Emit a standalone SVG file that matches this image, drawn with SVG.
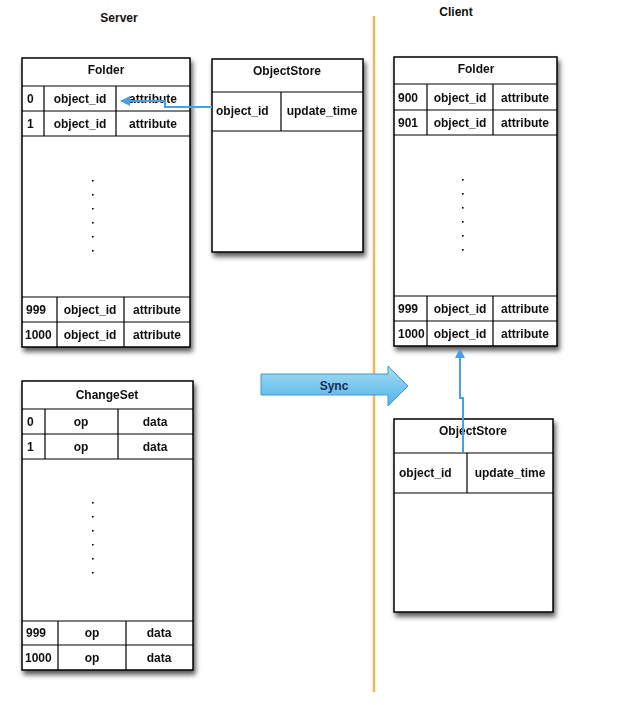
<svg xmlns="http://www.w3.org/2000/svg" width="622" height="705" viewBox="0 0 622 705">
<defs>
<style>
text{font-family:"Liberation Sans",Arial,sans-serif;font-weight:bold;font-size:12px;fill:#111;}
.c{text-anchor:middle;}
.box{fill:#fff;stroke:#000;stroke-width:1.5;}
.ln{stroke:#000;stroke-width:1.2;fill:none;}
.dot{fill:#000;}
.conn{stroke:#4a9fe0;stroke-width:2;fill:none;}
</style>
<filter id="sh" x="-10%" y="-10%" width="130%" height="130%">
<feDropShadow dx="2" dy="4" stdDeviation="2.5" flood-color="#000" flood-opacity="0.65"/>
</filter>
<linearGradient id="sg" x1="0" y1="0" x2="0" y2="1">
<stop offset="0" stop-color="#a6dcf5"/>
<stop offset="1" stop-color="#4fb3e6"/>
</linearGradient>
<marker id="ah" viewBox="0 0 10 10" refX="9" refY="5" markerWidth="5" markerHeight="5" orient="auto">
<path d="M0,0 L10,5 L0,10 z" fill="#4a9fe0"/>
</marker>
</defs>
<rect width="622" height="705" fill="#fff"/>

<text x="119" y="22" class="c">Server</text>
<text x="456" y="16" class="c">Client</text>

<line x1="374" y1="16" x2="374" y2="692" stroke="#efb560" stroke-width="2.5"/>

<g id="server-folder" filter="url(#sh)">
<rect class="box" x="22" y="58" width="168" height="289"/>
<path class="ln" d="M22,86H190 M22,111H190 M22,136H190 M44,86V136 M116,86V136 M22,297H190 M22,322H190 M57,297V347 M124,297V347"/>
<text x="106" y="74" class="c">Folder</text>
<text x="27" y="103">0</text><text x="80" y="103" class="c">object_id</text><text x="153" y="103" class="c">attribute</text>
<text x="27" y="128">1</text><text x="80" y="128" class="c">object_id</text><text x="153" y="128" class="c">attribute</text>
<text x="26" y="314">999</text><text x="90" y="314" class="c">object_id</text><text x="157" y="314" class="c">attribute</text>
<text x="25" y="339">1000</text><text x="90" y="339" class="c">object_id</text><text x="157" y="339" class="c">attribute</text>
<g class="dot"><rect x="92" y="180" width="1.6" height="1.6"/><rect x="92" y="194" width="1.6" height="1.6"/><rect x="92" y="208" width="1.6" height="1.6"/><rect x="92" y="222" width="1.6" height="1.6"/><rect x="92" y="236" width="1.6" height="1.6"/><rect x="92" y="250" width="1.6" height="1.6"/></g>
</g>

<g id="server-objectstore" filter="url(#sh)">
<rect class="box" x="212" y="59" width="151" height="193"/>
<path class="ln" d="M212,92H363 M212,131H363 M281,92V131"/>
<text x="287" y="75" class="c">ObjectStore</text>
<text x="216" y="115">object_id</text><text x="322" y="115" class="c">update_time</text>
</g>

<g id="changeset" filter="url(#sh)">
<rect class="box" x="22" y="381" width="171" height="289"/>
<path class="ln" d="M22,409H193 M22,434H193 M22,459H193 M45,409V459 M118,409V459 M22,621H193 M22,645H193 M58,621V670 M126,621V670"/>
<text x="107" y="399" class="c">ChangeSet</text>
<text x="27" y="426">0</text><text x="81" y="426" class="c">op</text><text x="155" y="426" class="c">data</text>
<text x="27" y="451">1</text><text x="81" y="451" class="c">op</text><text x="155" y="451" class="c">data</text>
<text x="26" y="637">999</text><text x="92" y="637" class="c">op</text><text x="159" y="637" class="c">data</text>
<text x="25" y="662">1000</text><text x="92" y="662" class="c">op</text><text x="159" y="662" class="c">data</text>
<g class="dot"><rect x="92" y="502" width="1.6" height="1.6"/><rect x="92" y="516" width="1.6" height="1.6"/><rect x="92" y="530" width="1.6" height="1.6"/><rect x="92" y="544" width="1.6" height="1.6"/><rect x="92" y="558" width="1.6" height="1.6"/><rect x="92" y="572" width="1.6" height="1.6"/></g>
</g>

<g id="client-folder" filter="url(#sh)">
<rect class="box" x="394" y="57" width="163" height="289"/>
<path class="ln" d="M394,84H557 M394,110H557 M394,135H557 M427,84V135 M493,84V135 M394,296H557 M394,321H557 M427,296V346 M493,296V346"/>
<text x="476" y="73" class="c">Folder</text>
<text x="398" y="102">900</text><text x="460" y="102" class="c">object_id</text><text x="525" y="102" class="c">attribute</text>
<text x="398" y="127">901</text><text x="460" y="127" class="c">object_id</text><text x="525" y="127" class="c">attribute</text>
<text x="398" y="313">999</text><text x="460" y="313" class="c">object_id</text><text x="525" y="313" class="c">attribute</text>
<text x="398" y="338">1000</text><text x="460" y="338" class="c">object_id</text><text x="525" y="338" class="c">attribute</text>
<g class="dot"><rect x="462" y="179" width="1.6" height="1.6"/><rect x="462" y="193" width="1.6" height="1.6"/><rect x="462" y="207" width="1.6" height="1.6"/><rect x="462" y="221" width="1.6" height="1.6"/><rect x="462" y="235" width="1.6" height="1.6"/><rect x="462" y="249" width="1.6" height="1.6"/></g>
</g>

<g id="client-objectstore" filter="url(#sh)">
<rect class="box" x="394" y="419" width="159" height="193"/>
<path class="ln" d="M394,453H553 M394,493H553 M467,453V493"/>
<text x="473" y="435" class="c">ObjectStore</text>
<text x="399" y="477">object_id</text><text x="510" y="477" class="c">update_time</text>
</g>

<g id="sync">
<polygon points="261,374 388,374 388,366 408,386 388,406 388,395 261,395" fill="url(#sg)" stroke="#3d9ad6" stroke-width="1"/>
<text x="334" y="390" class="c" style="fill:#1a2a55">Sync</text>
</g>

<g id="connectors">
<path class="conn" d="M212,107H165V101H121" marker-end="url(#ah)"/>
<path class="conn" d="M463,452V398H460V349" marker-end="url(#ah)"/>
</g>
</svg>
